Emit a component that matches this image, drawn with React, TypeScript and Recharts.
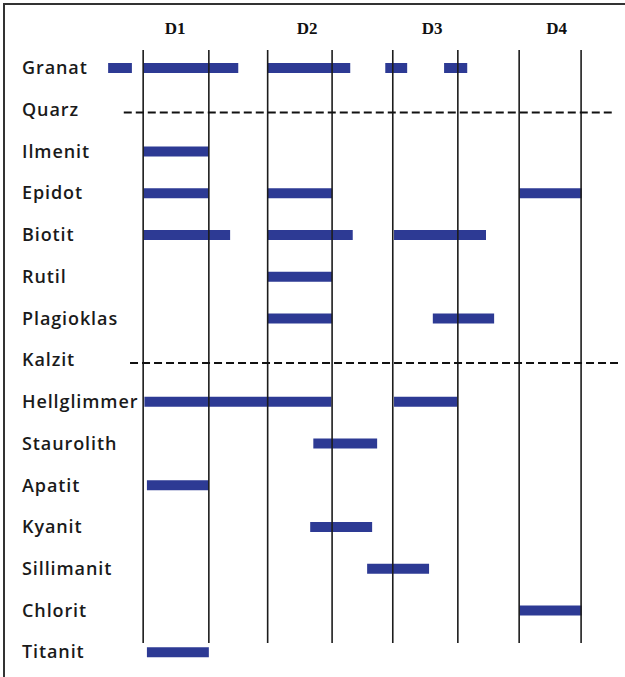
import { Bar, BarChart, ReferenceLine, XAxis, YAxis } from 'recharts'

type Span = [number, number] | null

const minerals = [
  'Granat', 'Quarz', 'Ilmenit', 'Epidot', 'Biotit', 'Rutil', 'Plagioklas', 'Kalzit',
  'Hellglimmer', 'Staurolith', 'Apatit', 'Kyanit', 'Sillimanit', 'Chlorit', 'Titanit',
]

// growth intervals on a relative time scale, up to five per mineral
const span1: Span[] = [
  [4.5, 8.3], null, [10.1, 20.6], [10.2, 20.6], [10.2, 24], [29.9, 40.3], [29.9, 40.3], null,
  [10.3, 40.2], [37.3, 47.5], [10.7, 20.6], [36.8, 46.7], [45.9, 55.8], [70.2, 80.2], [10.7, 20.6],
]
const span2: Span[] = [
  [10.1, 25.3], null, null, [29.9, 40.3], [29.9, 43.6], null, [56.4, 66.2], null,
  [50.2, 60.3], null, null, null, null, null, null,
]
const span3: Span[] = [
  [30, 43.2], null, null, [70.2, 80.2], [50.2, 64.9], null, null, null,
  null, null, null, null, null, null, null,
]
const span4: Span[] = [[48.8, 52.3], null, null, null, null, null, null, null, null, null, null, null, null, null, null]
const span5: Span[] = [[58.2, 61.9], null, null, null, null, null, null, null, null, null, null, null, null, null, null]

const stageBounds = [10.1, 20.6, 30, 40.3, 50, 60.4, 70.2, 80.1]
const stageNames = ['D1', 'D2', 'D3', 'D4']
const stageNamePos = [15.2, 36.3, 56.3, 76.2]

// phases stable throughout, drawn as dashed lines
const dashedRows = ['Quarz', 'Kalzit']
const dashedFrom = [7, 8]
const dashedTo = [85, 86]

const data = minerals.map((name, i) => ({
  name,
  s1: span1[i],
  s2: span2[i],
  s3: span3[i],
  s4: span4[i],
  s5: span5[i],
}))

const BAR_COLOR = '#2d3a94'
const LINE_COLOR = '#1c1c1c'

function MineralTick({ y, payload }: { y?: number; payload?: { value: string } }) {
  return (
    <text
      x={22}
      y={y}
      dy="0.35em"
      textAnchor="start"
      fill="#1a1a1a"
      fontFamily="'Open Sans', sans-serif"
      fontSize={18}
      fontWeight={600}
      letterSpacing={0.9}
    >
      {payload?.value}
    </text>
  )
}

function StageTick({ x, payload }: { x?: number; payload?: { value: number } }) {
  const idx = stageNamePos.indexOf(payload?.value ?? -1)
  return (
    <text
      x={x}
      y={34}
      textAnchor="middle"
      fill="#111"
      fontFamily="'Liberation Serif', serif"
      fontSize={17}
      fontWeight={700}
    >
      {stageNames[idx]}
    </text>
  )
}

// stage boundary: trimmed a little at top and bottom of the plot
function BoundLine(props: any) {
  const { x1, x2, y1, y2 } = props
  return <line x1={x1} x2={x2} y1={y1 + 3} y2={y2 - 30} stroke={LINE_COLOR} strokeWidth={1.6} />
}

function DashLine(props: any) {
  const { x1, x2, y1, y2 } = props
  return (
    <line x1={x1} x2={x2} y1={y1 + 3} y2={y2 + 3} stroke="#111" strokeWidth={2} strokeDasharray="8 4" />
  )
}

export default function App() {
  return (
    <div style={{ position: 'absolute', left: 0, top: 0, width: 625, height: 677, background: '#fff' }}>
      <div style={{ position: 'absolute', left: 3, top: 3, width: 622, height: 2, background: '#333' }} />
      <div style={{ position: 'absolute', left: 3, top: 3, width: 2, height: 674, background: '#333' }} />
      <BarChart
        width={625}
        height={677}
        data={data}
        layout="vertical"
        barGap={-10}
        barSize={10}
        margin={{ top: 0, right: 7, bottom: 4, left: 0 }}
      >
        <XAxis
          type="number"
          orientation="top"
          domain={[4, 86]}
          allowDataOverflow
          ticks={stageNamePos}
          interval={0}
          height={47}
          axisLine={false}
          tickLine={false}
          tick={<StageTick />}
        />
        <YAxis
          type="category"
          dataKey="name"
          width={105}
          interval={0}
          axisLine={false}
          tickLine={false}
          tick={<MineralTick />}
        />
        {['s1', 's2', 's3', 's4', 's5'].map((key) => (
          <Bar key={key} dataKey={key} fill={BAR_COLOR} isAnimationActive={false} />
        ))}
        {stageBounds.map((v) => (
          <ReferenceLine key={`b${v}`} x={v} shape={<BoundLine />} />
        ))}
        {dashedRows.map((row, i) => (
          <ReferenceLine
            key={row}
            segment={[{ x: dashedFrom[i], y: row }, { x: dashedTo[i], y: row }]}
            shape={<DashLine />}
          />
        ))}
      </BarChart>
    </div>
  )
}
